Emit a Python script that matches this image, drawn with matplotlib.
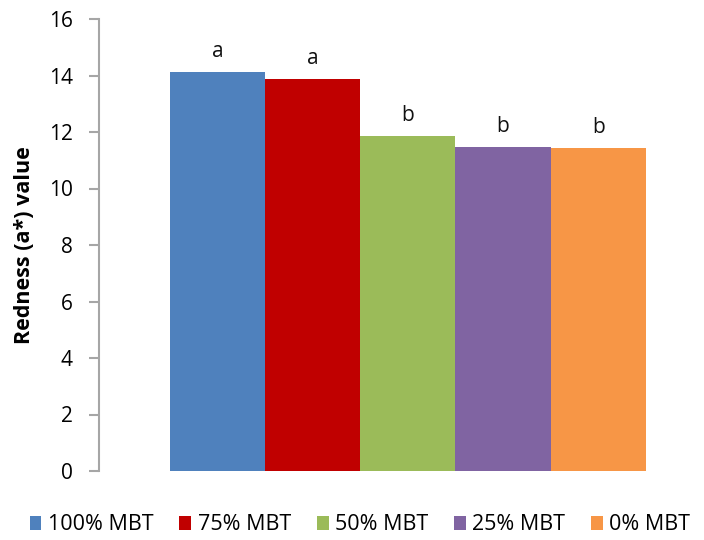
import matplotlib
matplotlib.use("Agg")
import matplotlib.pyplot as plt
from matplotlib.patches import Patch

treatments = ["100% MBT", "75% MBT", "50% MBT", "25% MBT", "0% MBT"]
redness = [14.12, 13.88, 11.86, 11.47, 11.43]
letters = ["a", "a", "b", "b", "b"]
colors = ["#4f81bd", "#c00000", "#9bbb59", "#8064a2", "#f79646"]
yticks = [0, 2, 4, 6, 8, 10, 12, 14, 16]

plt.rcParams["font.family"] = ["Open Sans", "DejaVu Sans"]

fig = plt.figure(figsize=(7.04, 5.4), dpi=100)
ax = fig.add_axes([99 / 704, 69 / 540, 601 / 704, 452 / 540])

x = list(range(len(treatments)))
bars = ax.bar(x, redness, width=1.0, color=colors, linewidth=0)

for xi, val, lab in zip(x, redness, letters):
    ax.annotate(lab, (xi, val), xytext=(0, 7), textcoords="offset points",
                ha="center", va="bottom", fontsize=15, color="#111111")

ax.set_xlim(-1.245, 5.07)
ax.set_ylim(0, 16)
ax.set_yticks(yticks)
ax.set_yticklabels([str(t) for t in yticks], fontsize=15)
ax.set_xticks([])

for side in ["top", "right", "bottom"]:
    ax.spines[side].set_visible(False)
ax.spines["left"].set_color("#a6a6a6")
ax.spines["left"].set_linewidth(1.5)
ax.tick_params(axis="y", direction="out", length=7, width=1.5,
               color="#a6a6a6", pad=12)

ax.set_ylabel("Redness (a*) value", fontsize=15.5, fontweight="bold", labelpad=10)

handles = [Patch(facecolor=c, edgecolor="none") for c in colors]
fig.legend(handles, treatments, loc="center", bbox_to_anchor=(360 / 704, 15 / 540),
           ncol=5, frameon=False, fontsize=15.5, handlelength=0.55, handleheight=0.6,
           handletextpad=0.3, columnspacing=1.2)

fig.savefig("out.png", dpi=100)
